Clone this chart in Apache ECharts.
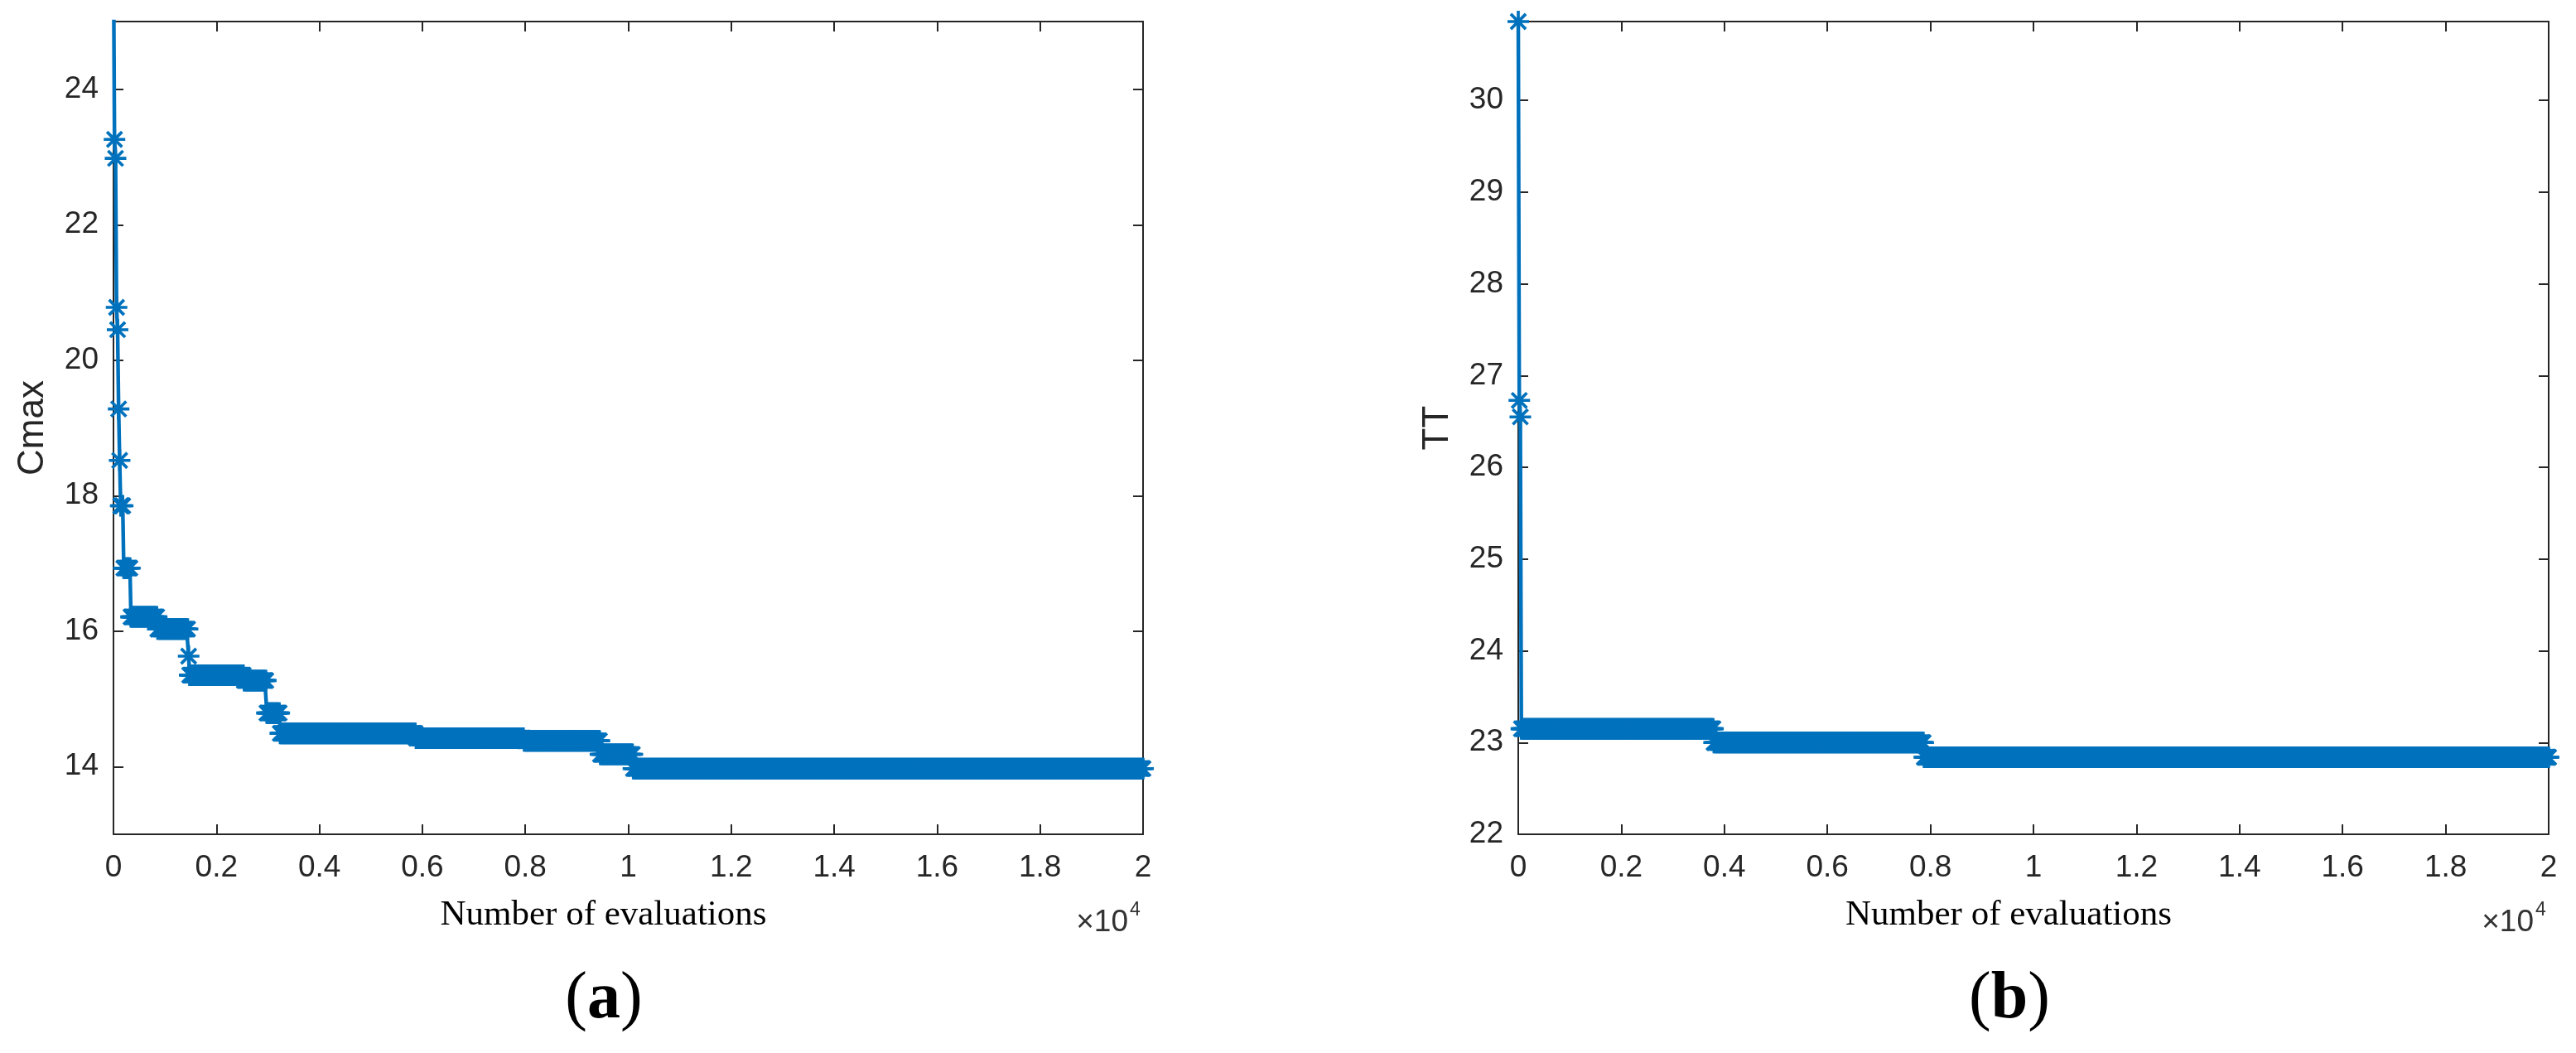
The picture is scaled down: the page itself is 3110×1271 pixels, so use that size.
<!DOCTYPE html>
<html>
<head>
<meta charset="utf-8">
<title>Cmax / TT convergence</title>
<script src="https://cdn.jsdelivr.net/npm/echarts@6/dist/echarts.min.js"></script>
<style>
  html, body { margin: 0; padding: 0; background: #fff; }
  #chart { width: 3110px; height: 1271px; }
</style>
</head>
<body>
<div id="chart"></div>
<script>
// tick labels (x axis shown in units of 10^4 evaluations)
var xTickLabels = ['0', '0.2', '0.4', '0.6', '0.8', '1', '1.2', '1.4', '1.6', '1.8', '2'];
var cmaxTicks = [14, 16, 18, 20, 22, 24];
var ttTicks = [22, 23, 24, 25, 26, 27, 28, 29, 30];

// best value so far, recorded every 20 evaluations
// each run: [first evaluation, last evaluation, value]
var sampleStep = 20;
var cmaxRuns = [
  [0, 0, 26],
  [20, 20, 23.26],
  [40, 40, 22.98],
  [60, 60, 20.78],
  [80, 80, 20.45],
  [100, 100, 19.28],
  [120, 120, 18.52],
  [140, 180, 17.85],
  [200, 320, 16.93],
  [340, 840, 16.21],
  [860, 1440, 16.03],
  [1460, 1460, 15.63],
  [1480, 2520, 15.35],
  [2540, 2960, 15.27],
  [2980, 3220, 14.79],
  [3240, 5860, 14.49],
  [5880, 7960, 14.42],
  [7980, 9440, 14.38],
  [9460, 10080, 14.18],
  [10100, 20000, 13.97]
];
var ttRuns = [
  [0, 0, 30.86],
  [20, 20, 26.73],
  [40, 40, 26.55],
  [60, 3780, 23.15],
  [3800, 7860, 23.0],
  [7880, 20000, 22.84]
];

function expand(runs) {
  var pts = [];
  runs.forEach(function (r) {
    for (var e = r[0]; e <= r[1]; e += sampleStep) pts.push([e, r[2]]);
  });
  return pts;
}

var blue = '#0072BD';
var axisColor = '#262626';
// matlab style asterisk marker
var star = 'path://M0 43L100 43L100 57L0 57Z M43 0L57 0L57 100L43 100Z ' +
  'M10 20L20 10L90 80L80 90Z M80 10L90 20L20 90L10 80Z';

function xAxisFor(g, pos) {
  return {
    type: 'value', gridIndex: g, position: pos,
    min: 0, max: 20000, interval: 2000,
    axisLine: { show: true, onZero: false, lineStyle: { color: axisColor, width: 2 } },
    axisTick: { show: true, inside: true, length: 12, lineStyle: { color: axisColor, width: 2 } },
    axisLabel: {
      show: pos === 'bottom', margin: 22, fontSize: 37, color: axisColor,
      fontFamily: 'Liberation Sans', interval: 0,
      formatter: function (v) { return xTickLabels[Math.round(v / 2000)]; }
    },
    splitLine: { show: false },
    name: pos === 'bottom' ? 'Number of evaluations' : '',
    nameLocation: 'middle', nameGap: 76,
    nameTextStyle: {
      fontFamily: 'Liberation Serif', fontSize: 43, color: '#000',
      padding: [0, 60, 0, 0]
    }
  };
}

function yAxisFor(g, pos, min, max, ticks, name) {
  return {
    type: 'value', gridIndex: g, position: pos, min: min, max: max,
    axisLine: { show: true, onZero: false, lineStyle: { color: axisColor, width: 2 } },
    axisTick: { show: true, inside: true, length: 12, customValues: ticks,
      lineStyle: { color: axisColor, width: 2 } },
    axisLabel: { show: pos === 'left', customValues: ticks, margin: 18, fontSize: 37,
      color: axisColor, fontFamily: 'Liberation Sans' },
    splitLine: { show: false },
    name: pos === 'left' ? name : '',
    nameLocation: 'middle', nameGap: 75,
    nameTextStyle: { fontFamily: 'Liberation Sans', fontSize: 44, color: axisColor }
  };
}

function textEl(x, y, text, size, align, color) {
  return {
    type: 'text', x: x, y: y, silent: true,
    style: { text: text, fontFamily: 'Liberation Sans', fontSize: size, fill: color,
      align: align, verticalAlign: 'middle' }
  };
}

function panelLabel(x, letter) {
  return {
    type: 'text', x: x, y: 1207, silent: true,
    style: {
      text: '{p|(}{b|' + letter + '}{p|)}', align: 'center', verticalAlign: 'middle',
      rich: {
        p: { fontFamily: 'Liberation Serif', fontSize: 80, fill: '#000' },
        b: { fontFamily: 'Liberation Serif', fontSize: 80, fontWeight: 'bold', fill: '#000' }
      }
    }
  };
}

var chart = echarts.init(document.getElementById('chart'));
var option = {
  animation: false,
  backgroundColor: '#fff',
  grid: [
    { left: 137, top: 26, width: 1243, height: 981, outerBoundsMode: 'none' },
    { left: 1833, top: 26, width: 1244, height: 981, outerBoundsMode: 'none' }
  ],
  xAxis: [xAxisFor(0, 'bottom'), xAxisFor(0, 'top'), xAxisFor(1, 'bottom'), xAxisFor(1, 'top')],
  yAxis: [
    yAxisFor(0, 'left', 13, 25, cmaxTicks, 'Cmax'),
    yAxisFor(0, 'right', 13, 25, cmaxTicks, ''),
    yAxisFor(1, 'left', 22, 30.86, ttTicks, 'TT'),
    yAxisFor(1, 'right', 22, 30.86, ttTicks, '')
  ],
  series: [
    {
      type: 'line', xAxisIndex: 0, yAxisIndex: 0, data: expand(cmaxRuns),
      symbol: star, symbolSize: 26, showSymbol: true, clip: true, z: 3,
      lineStyle: { color: blue, width: 4.5 }, itemStyle: { color: blue }
    },
    {
      type: 'line', xAxisIndex: 2, yAxisIndex: 2, data: expand(ttRuns),
      symbol: star, symbolSize: 26, showSymbol: true, clip: false, z: 3,
      lineStyle: { color: blue, width: 4.5 }, itemStyle: { color: blue }
    }
  ],
  graphic: [
    textEl(1362, 1114, '\u00d710', 37, 'right', '#333'),
    textEl(1364, 1099, '4', 23, 'left', '#333'),
    textEl(3059, 1114, '\u00d710', 37, 'right', '#333'),
    textEl(3061, 1099, '4', 23, 'left', '#333'),
    panelLabel(729, 'a'),
    panelLabel(2426, 'b')
  ]
};
chart.setOption(option);
</script>
</body>
</html>
